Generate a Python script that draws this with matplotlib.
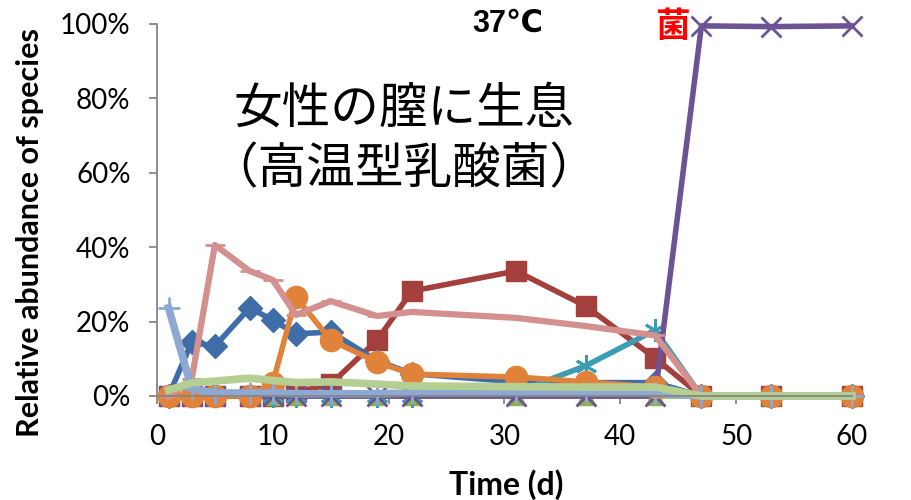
import matplotlib
matplotlib.use("Agg")
import matplotlib.pyplot as plt
from matplotlib.ticker import PercentFormatter

# 時間 (d)
days = [1, 3, 5, 8, 10, 12, 15, 19, 22, 31, 37, 43, 47, 53, 60]

# 各菌種の相対存在量 (%)
blue_dia = [0, 14.5, 13.4, 23.7, 20.4, 16.7, 17.2, 9.5, 6.0, 3.8, 3.6, 3.6, 0, 0, 0]
red_sq = [0, 0, 0, 0, 0, 1.0, 3.2, 15.0, 28.2, 33.6, 24.2, 10.2, 0, 0, 0]
green_tri = [0, 0, 0, 0, 0, 0, 0, 0, 0, 0, 0, 0, 0, 0, 0]
purple_x = [0, 0, 0, 0, 0, 0, 0, 0, 0, 0, 0, 0, 99.5, 99.3, 99.5]
teal_star = [0, 0, 0, 0, 0, 0, 0, 0, 0, 1.0, 8.1, 17.7, 0, 0, 0]
orange_o = [0, 0, 0, 0, 3.5, 26.6, 15.0, 9.1, 5.9, 5.1, 3.8, 2.4, 0, 0, 0]
lblue_plus = [23.7, 2.0, 0.8, 0.8, 0.8, 0.6, 0.6, 0.6, 0.8, 0.8, 0.8, 0.8, 0, 0, 0]
pink_dash = [0, 4.5, 40.6, 33.6, 31.2, 21.8, 25.5, 21.5, 22.6, 21.0, 18.8, 16.3, 0, 0, 0]
lgreen = [1.6, 3.5, 4.0, 4.8, 4.2, 3.6, 3.8, 3.2, 2.7, 2.5, 2.4, 2.4, 0, 0, 0]

fig = plt.figure(figsize=(9.11, 5.0), dpi=100)
ax = fig.add_axes([0.1723, 0.208, 0.7629, 0.744])

# 系列ごとのスタイル
series = [
    (red_sq, "#A33F3C", "s", 14, 4.0),
    (blue_dia, "#3E6DAA", "D", 12, 4.0),
    (green_tri, "#8DB04E", "^", 13, 4.0),
    (teal_star, "#3B9DB2", (6, 2, 0), 16, 4.0),
    (purple_x, "#6B5394", "x", 14, 4.0),
    (orange_o, "#E0823A", "o", 16, 4.0),
    (pink_dash, "#D3908E", "_", 14, 4.5),
    (lblue_plus, "#8DA8D3", "+", 16, 5.5),
    (lgreen, "#B5CF92", None, 0, 5.5),
]
for vals, col, mk, ms, lw in series:
    ax.plot(days, vals, color=col, lw=lw, marker=mk, markersize=ms,
            markeredgewidth=2 if mk in ("x", "+", "_", (6, 2, 0)) else 1,
            markeredgecolor=col, clip_on=False, solid_joinstyle="round")

ax.set_xlim(0, 60)
ax.set_ylim(0, 100)
ax.set_xticks(range(0, 61, 10))
ax.set_yticks(range(0, 101, 20))
ax.yaxis.set_major_formatter(PercentFormatter(decimals=0))

for s in ("top", "right"):
    ax.spines[s].set_visible(False)
for s in ("left", "bottom"):
    ax.spines[s].set_color("#868686")
    ax.spines[s].set_linewidth(1.3)
ax.tick_params(axis="both", colors="#868686", labelcolor="black", length=6,
               width=1.3, labelsize=20)
ax.tick_params(axis="x", pad=14)
ax.tick_params(axis="y", pad=13)
for lab in ax.get_xticklabels() + ax.get_yticklabels():
    lab.set_family("Lato")

ax.set_xlabel("Time (d)", family="Lato", fontweight="bold", fontsize=23, va="center")
ax.xaxis.set_label_coords(0.502, -0.239)
ax.set_ylabel("Relative abundance of species", family="Lato", fontweight="bold",
              fontsize=22, va="center")
ax.yaxis.set_label_coords(-0.183, 0.44)

fig.text(0.557, 0.952, "37℃", family=["Liberation Sans", "DejaVu Sans"],
         fontweight="bold", fontsize=22, ha="center", va="center")
fig.text(0.738, 0.946, "菌", family=["Noto Sans CJK JP"], fontweight="bold",
         fontsize=25, color="red", ha="center", va="center",
         bbox=dict(facecolor="white", edgecolor="none", pad=0))

fig.text(0.443, 0.783, "女性の膣に生息", family=["Noto Sans CJK JP"],
         fontsize=35, ha="center", va="center")
fig.text(0.443, 0.66, "（高温型乳酸菌）", family=["Noto Sans CJK JP"],
         fontsize=35, ha="center", va="center")

fig.savefig("out.png", dpi=100)
